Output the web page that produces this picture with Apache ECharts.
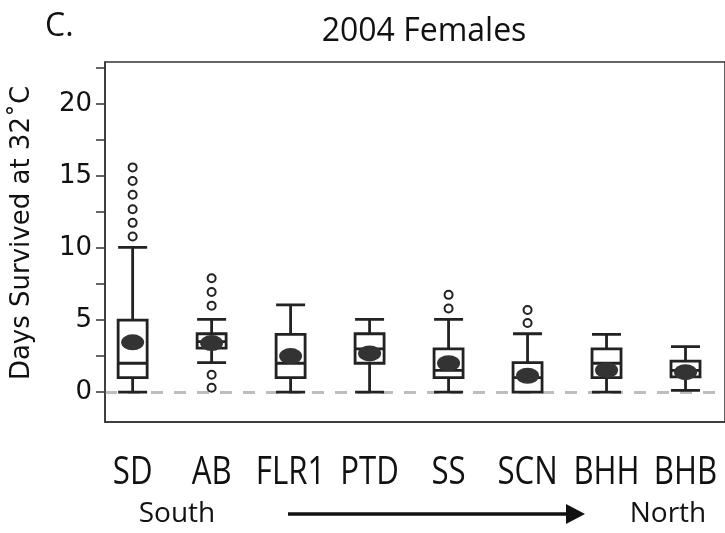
<!DOCTYPE html>
<html>
<head>
<meta charset="utf-8">
<script src="https://cdn.jsdelivr.net/npm/echarts@6/dist/echarts.min.js"></script>
<style>html,body{margin:0;padding:0;background:#fff;}#chart{width:725px;height:533px;}</style>
</head>
<body>
<div id="chart"></div>
<script>
var categories = ['SD', 'AB', 'FLR1', 'PTD', 'SS', 'SCN', 'BHH', 'BHB'];
var whiskerLow = [0, 2.05, 0, 0, 0, 0, 0, 0.12];
var quartile1 = [1, 3.05, 1, 2, 1, 0, 1, 1.05];
var medians = [2, 3.5, 2, 3, 1.5, 1, 2, 1.5];
var quartile3 = [5, 4.05, 4, 4.05, 3, 2.05, 3, 2.15];
var whiskerHigh = [10.05, 5.05, 6.05, 5.05, 5.05, 4.05, 4, 3.15];
var means = [3.45, 3.4, 2.5, 2.68, 2.0, 1.13, 1.52, 1.38];
var outliers = [
  [10.8, 11.75, 12.7, 13.7, 14.65, 15.6],
  [0.3, 1.2, 6.0, 6.95, 7.9],
  [],
  [],
  [5.8, 6.75],
  [4.8, 5.7],
  [],
  []
];
var yTickLabels = [0, 5, 10, 15, 20];
var yTicks = [0, 2.5, 5, 7.5, 10, 12.5, 15, 17.5, 20, 22.5];

var boxData = categories.map(function (c, i) {
  return [i, whiskerLow[i], quartile1[i], medians[i], quartile3[i], whiskerHigh[i]];
});
var meanData = means.map(function (m, i) { return [i, m]; });
var outlierData = [];
outliers.forEach(function (arr, i) {
  arr.forEach(function (v) { outlierData.push([i, v]); });
});

var ink = '#222';
var staticGraphics = [
  {type: 'text', left: 45, top: 11, style: {text: 'C.', font: '32px "Open Sans", sans-serif', fill: '#111'}},
  {type: 'text', x: 424, y: 32, style: {text: '2004 Females', font: '32px "Open Sans", sans-serif', fill: '#111', align: 'center', verticalAlign: 'middle'}},
  {type: 'text', x: 22, y: 233, rotation: Math.PI / 2, style: {text: 'Days Survived at 32˚C', font: '26px "DejaVu Sans", sans-serif', fill: '#111', align: 'center', verticalAlign: 'middle'}},
  {type: 'text', x: 177, y: 514, style: {text: 'South', font: '28px "Open Sans", sans-serif', fill: '#111', align: 'center', verticalAlign: 'middle'}},
  {type: 'text', x: 668, y: 514, style: {text: 'North', font: '28px "Open Sans", sans-serif', fill: '#111', align: 'center', verticalAlign: 'middle'}},
  {type: 'line', shape: {x1: 288, y1: 514, x2: 570, y2: 514}, style: {stroke: '#111', lineWidth: 3.5}},
  {type: 'polygon', shape: {points: [[566, 504], [585, 514], [566, 524]]}, style: {fill: '#111'}}
];

var chart = echarts.init(document.getElementById('chart'), null, {renderer: 'canvas'});
chart.setOption({
  animation: false,
  backgroundColor: '#fff',
  grid: {
    left: 105, top: 62, bottom: 111, right: -5,
    show: true, borderColor: '#333', borderWidth: 1.5, backgroundColor: 'transparent'
  },
  xAxis: {
    type: 'value', min: -0.35, max: 7.5,
    splitLine: {show: false},
    axisLine: {show: true, onZero: false, lineStyle: {color: '#333', width: 1.5}},
    axisTick: {show: false},
    axisLabel: {show: false}
  },
  yAxis: {
    type: 'value', min: -2.08, max: 22.92,
    splitLine: {show: false},
    axisLine: {show: true, onZero: false, lineStyle: {color: '#333', width: 1.5}},
    axisTick: {show: true, customValues: yTicks, length: 9, inside: false, lineStyle: {color: '#333', width: 1.5}},
    axisLabel: {
      customValues: yTickLabels,
      fontFamily: '"DejaVu Sans", sans-serif', fontSize: 26, color: '#111', margin: 13
    }
  },
  series: [
    {
      type: 'boxplot',
      layout: 'horizontal',
      data: boxData,
      boxWidth: [29, 29],
      itemStyle: {color: 'transparent', borderColor: ink, borderWidth: 2.8},
      emphasis: {disabled: true},
      markLine: {
        silent: true, symbol: 'none', label: {show: false},
        lineStyle: {color: '#bdbdbd', width: 3, type: [12, 11]},
        data: [{yAxis: 0}],
        z: 0
      },
      z: 2
    },
    {
      type: 'scatter',
      data: meanData,
      symbol: 'circle',
      symbolSize: [23, 16],
      itemStyle: {color: '#333', opacity: 1},
      emphasis: {disabled: true},
      z: 3
    },
    {
      type: 'scatter',
      data: outlierData,
      symbol: 'emptyCircle',
      symbolSize: 8,
      itemStyle: {color: ink, borderColor: ink, borderWidth: 2.4, opacity: 1},
      emphasis: {disabled: true},
      z: 3
    }
  ],
  graphic: staticGraphics
});

// Category labels placed from the x axis scale, drawn in a condensed style
var labelGraphics = categories.map(function (name, i) {
  var px = chart.convertToPixel({xAxisIndex: 0}, i);
  var axisBottom = chart.convertToPixel({yAxisIndex: 0}, -2.08);
  return {
    type: 'text', x: px, y: axisBottom + 31, scaleX: 0.8,
    style: {text: name, font: '39px "Open Sans", sans-serif', fill: '#111', align: 'center', verticalAlign: 'top'}
  };
});
chart.setOption({graphic: staticGraphics.concat(labelGraphics)});
</script>
</body>
</html>
